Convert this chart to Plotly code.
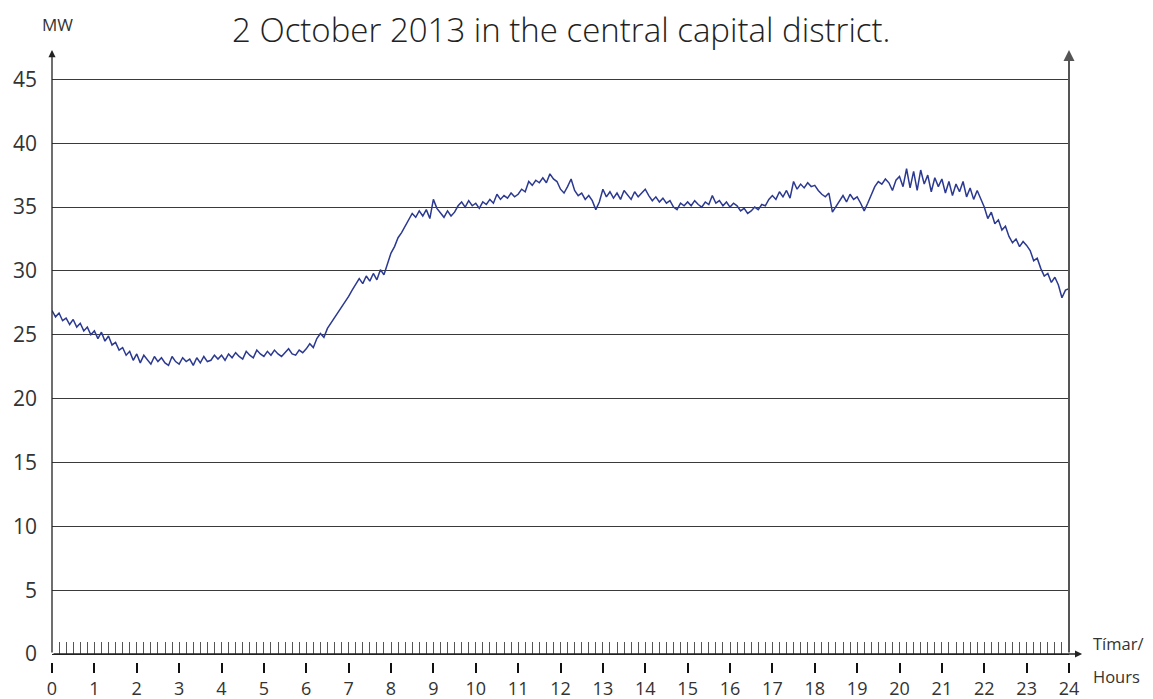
import plotly.graph_objects as go

# Sampling instants, minutes after midnight (every 5 minutes)
minutes = list(range(0, 24 * 60 + 1, 5))

# Load in MW, one row per hour (12 samples each) + 24:00
load_mw = [
    26.9, 26.4, 26.7, 26.1, 26.3, 25.8, 26.2, 25.6, 25.9, 25.3, 25.6, 25.0,  # 0
    25.3, 24.7, 25.2, 24.5, 24.9, 24.2, 24.4, 23.8, 24.0, 23.4, 23.7, 23.0,  # 1
    23.5, 22.8, 23.4, 23.0, 22.7, 23.3, 22.9, 23.2, 22.8, 22.6, 23.3, 22.9,  # 2
    22.7, 23.2, 22.9, 23.1, 22.6, 23.2, 22.8, 23.3, 22.9, 23.0, 23.4, 23.1,  # 3
    23.4, 23.0, 23.5, 23.2, 23.6, 23.3, 23.1, 23.7, 23.4, 23.2, 23.8, 23.5,  # 4
    23.3, 23.7, 23.4, 23.8, 23.5, 23.3, 23.6, 23.9, 23.5, 23.4, 23.8, 23.6,  # 5
    23.9, 24.3, 24.0, 24.7, 25.1, 24.8, 25.5, 25.9, 26.4, 26.8, 27.1, 27.6,  # 6
    28.0, 28.5, 28.9, 29.4, 29.0, 29.6, 29.2, 29.8, 29.3, 30.1, 29.7, 30.5,  # 7
    31.4, 31.9, 32.6, 33.0, 33.5, 34.1, 34.5, 34.2, 34.7, 34.3, 34.8, 34.1,  # 8
    35.6, 34.9, 34.5, 34.2, 34.7, 34.3, 34.6, 35.1, 35.4, 35.0, 35.5, 35.1,  # 9
    35.3, 34.9, 35.4, 35.2, 35.6, 35.3, 36.0, 35.6, 35.9, 35.7, 36.1, 35.8,  # 10
    36.0, 36.4, 36.2, 37.0, 36.7, 37.1, 36.9, 37.3, 36.9, 37.6, 37.2, 37.0,  # 11
    36.4, 36.1, 36.6, 37.2, 36.3, 35.9, 36.1, 35.6, 35.9, 35.5, 34.8, 35.4,  # 12
    36.4, 35.8, 36.2, 35.7, 36.1, 35.6, 36.3, 35.9, 35.6, 36.2, 35.8, 36.1,  # 13
    36.4, 35.9, 35.5, 35.8, 35.4, 35.7, 35.3, 35.5, 35.0, 34.8, 35.3, 35.1,  # 14
    35.4, 35.1, 35.5, 35.2, 35.0, 35.4, 35.2, 35.9, 35.3, 35.5, 35.1, 35.4,  # 15
    35.0, 35.3, 35.1, 34.7, 34.9, 34.5, 34.7, 35.0, 34.8, 35.2, 35.1, 35.6,  # 16
    35.9, 35.6, 36.2, 35.8, 36.3, 35.7, 37.0, 36.4, 36.8, 36.5, 36.9, 36.6,  # 17
    36.7, 36.3, 36.0, 35.8, 36.1, 34.6, 35.0, 35.5, 35.9, 35.4, 36.0, 35.6,  # 18
    35.8, 35.3, 34.7, 35.3, 36.0, 36.6, 37.0, 36.8, 37.2, 36.9, 36.3, 37.1,  # 19
    37.4, 36.6, 38.0, 36.5, 37.8, 36.3, 37.9, 36.8, 37.5, 36.2, 37.3, 36.6,  # 20
    37.2, 36.1, 37.0, 35.9, 36.8, 36.2, 37.0, 35.8, 36.5, 35.6, 36.3, 35.7,  # 21
    35.0, 34.1, 34.6, 33.7, 34.0, 33.2, 33.5, 32.7, 32.2, 32.5, 31.9, 32.3,  # 22
    32.0, 31.6, 30.8, 31.0, 30.2, 29.6, 29.8, 29.1, 29.5, 28.9, 27.9, 28.5,  # 23
    28.6,                                                                    # 24
]

hour_ticks = list(range(0, 25))
hour_labels = [str(h) for h in hour_ticks]
mw_ticks = [0, 5, 10, 15, 20, 25, 30, 35, 40, 45]

title_text = "2 October 2013 in the central capital district."
y_unit = "MW"
x_unit_line1 = "Tímar/"
x_unit_line2 = "Hours"

FONT = "Open Sans"
Y_TOP = 47.3
X_ARROW = 24.31

hours = [m / 60 for m in minutes]

fig = go.Figure()
fig.add_trace(go.Scatter(
    x=hours, y=load_mw, mode="lines",
    line=dict(color="#2b3990", width=1.5),
    hoverinfo="skip", showlegend=False,
))
# invisible trace to activate the secondary x axis (hour ticks below)
fig.add_trace(go.Scatter(
    x=[0, 24], y=[0, 0], xaxis="x2", mode="markers",
    marker=dict(opacity=0), hoverinfo="skip", showlegend=False,
))

# the page body adds an 8px offset, so the figure is 8px smaller and
# its margins 8px tighter on the top/left
fig.update_layout(
    width=1145, height=691,
    margin=dict(l=44, r=84, t=42, b=37, autoexpand=False),
    paper_bgcolor="white", plot_bgcolor="white",
    font=dict(family=FONT, color="#333333"),
    xaxis=dict(
        range=[0, 24], showgrid=False, zeroline=False, automargin=False,
        showline=True, linecolor="#222222", linewidth=1.2,
        ticks="inside", tickmode="linear", tick0=0, dtick=1,
        ticklen=12, tickcolor="#555555", tickwidth=1,
        showticklabels=False,
        minor=dict(ticks="inside", tick0=0, dtick=1 / 6, ticklen=12,
                   tickcolor="#555555", tickwidth=1, showgrid=False),
    ),
    xaxis2=dict(
        range=[0, 24], overlaying="x", anchor="free", position=0,
        side="bottom", showgrid=False, zeroline=False, showline=False,
        automargin=False,
        ticks="outside", tickvals=hour_ticks, ticktext=hour_labels,
        ticklen=10, tickwidth=2.2, tickcolor="#111111",
        tickfont=dict(size=18, color="#333333", family=FONT),
    ),
    yaxis=dict(
        range=[0, Y_TOP], domain=[8 / 612, 1], automargin=False,
        tickvals=mw_ticks, showgrid=True, gridcolor="#3a3a3a", gridwidth=1,
        zeroline=False, showline=False, ticks="",
        ticklabelstandoff=14,
        tickfont=dict(size=21, color="#333333", family=FONT),
    ),
)

# axis arrows
arrow_common = dict(text="", showarrow=True, arrowhead=2, arrowsize=1.1,
                    xref="x", yref="y", axref="x", ayref="y")
fig.add_annotation(x=0, y=Y_TOP, ax=0, ay=0, arrowwidth=1.3,
                   arrowcolor="#222222", **arrow_common)
fig.add_annotation(x=24, y=Y_TOP, ax=24, ay=0, arrowwidth=2,
                   arrowcolor="#555555", **arrow_common)
fig.add_annotation(x=X_ARROW, y=0, ax=0, ay=0, arrowwidth=1.3,
                   arrowcolor="#222222", **arrow_common)

# texts
fig.add_annotation(text=title_text, xref="paper", yref="paper",
                   x=0.5, y=1, yshift=45, xanchor="center", yanchor="top",
                   showarrow=False,
                   font=dict(size=33, color="#222222", family=FONT, weight=300))
fig.add_annotation(text=y_unit, xref="x", yref="paper", x=0.12, y=1,
                   yshift=26, xanchor="center", yanchor="middle",
                   showarrow=False, font=dict(size=17, color="#333333"))
fig.add_annotation(text=x_unit_line1, xref="paper", yref="y", x=1, xshift=22,
                   y=0, yshift=11, xanchor="left", yanchor="middle",
                   showarrow=False, font=dict(size=16.5, color="#333333"))
fig.add_annotation(text=x_unit_line2, xref="paper", yref="y", x=1, xshift=22,
                   y=0, yshift=-22, xanchor="left", yanchor="middle",
                   showarrow=False, font=dict(size=16.5, color="#333333"))

fig.write_html("out.html")
